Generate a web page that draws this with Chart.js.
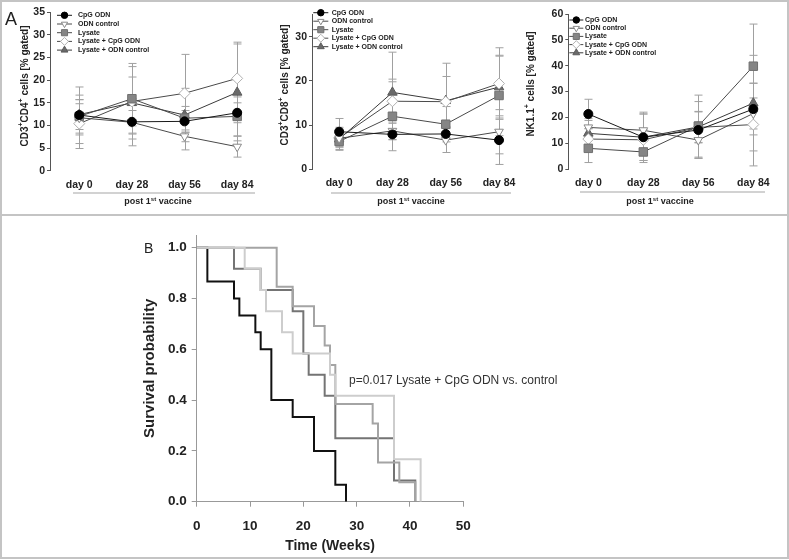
<!DOCTYPE html>
<html>
<head>
<meta charset="utf-8">
<script src="https://cdn.jsdelivr.net/npm/chart.js@4.4.1/dist/chart.umd.min.js"></script>
<style>
  html, body { margin: 0; padding: 0; background: #fff; }
  #fig { position: relative; width: 789px; height: 560px; overflow: hidden; font-family: 'Liberation Sans', Arial, sans-serif; }
  .frame { position: absolute; left: 0; top: 0; width: 789px; height: 559px; box-sizing: border-box; border: 2px solid #c4c4c4; }
  .sep { position: absolute; left: 0; top: 214px; width: 789px; height: 2px; background: #c4c4c4; }
  canvas { position: absolute; }
  .lbl { position: absolute; line-height: 1; color: #222; }
</style>
</head>
<body>
<div id="fig">
  <div class="frame"></div>
  <div class="sep"></div>
  <canvas id="cd4" width="262" height="214" style="left:0;top:0"></canvas>
  <canvas id="cd8" width="262" height="214" style="left:262px;top:0"></canvas>
  <canvas id="nk" width="262" height="214" style="left:524px;top:0"></canvas>
  <canvas id="km" width="640" height="338" style="left:140px;top:218px"></canvas>
  <div class="lbl" style="left:5px;top:10px;font-size:18px">A</div>
  <div class="lbl" style="left:144px;top:241px;font-size:14px">B</div>
</div>
<script>
const FONT = "'Liberation Sans', Arial, sans-serif";
const NARROW = "'Liberation Sans Narrow', 'Liberation Sans', Arial, sans-serif";
Chart.defaults.font.family = FONT;
Chart.defaults.color = '#222';

const days = ['day 0', 'day 28', 'day 56', 'day 84'];
const groups = ['CpG ODN', 'ODN control', 'Lysate', 'Lysate + CpG ODN', 'Lysate + ODN control'];

// rows follow `groups`, columns follow `days`
const cd4Mean = [
  [12.3, 10.8, 10.9, 12.8],
  [11.7, 10.7, 7.6, 5.3],
  [12.0, 15.9, 11.6, 12.0],
  [10.4, 15.3, 17.1, 20.4],
  [12.4, 15.0, 12.3, 17.3]
];
const cd4Sd = [
  [4.4, 2.5, 2.4, 2.2],
  [6.8, 5.2, 3.0, 2.3],
  [3.7, 7.8, 2.6, 4.3],
  [4.4, 5.4, 8.6, 8.0],
  [3.3, 8.0, 5.9, 10.7]
];
const cd8Mean = [
  [8.5, 7.9, 8.0, 6.6],
  [7.0, 8.7, 6.6, 8.5],
  [6.3, 12.0, 10.2, 16.7],
  [7.1, 15.4, 15.3, 19.4],
  [6.8, 17.4, 15.5, 18.6]
];
const cd8Sd = [
  [3.0, 1.2, 1.2, 5.5],
  [2.5, 2.0, 2.8, 5.0],
  [2.0, 7.8, 4.0, 9.1],
  [2.0, 5.0, 5.7, 8.1],
  [1.8, 9.1, 8.5, 7.0]
];
const nkMean = [
  [21.3, 12.3, 15.1, 23.2],
  [16.1, 15.0, 11.2, 21.5],
  [8.0, 6.6, 16.6, 39.8],
  [11.6, 11.3, 16.1, 17.2],
  [13.8, 12.3, 16.3, 25.5]
];
const nkSd = [
  [5.7, 9.0, 11.0, 10.0],
  [3.5, 7.0, 7.0, 6.0],
  [5.5, 4.1, 12.0, 16.3],
  [4.0, 4.0, 6.0, 16.0],
  [5.0, 9.0, 6.0, 18.5]
];

// Kaplan-Meier steps: time (weeks) and survival after the drop
const kmCtrlT  = [0, 2, 7, 8, 11, 12, 14, 18, 22, 26, 28];
const kmCtrlS  = [1, 0.867, 0.8, 0.733, 0.667, 0.6, 0.4, 0.333, 0.2, 0.067, 0];
const kmDarkT  = [0, 7, 12, 18, 20, 21, 24, 26, 37, 41];
const kmDarkS  = [1, 0.917, 0.833, 0.75, 0.583, 0.5, 0.417, 0.25, 0.083, 0];
const kmMidT   = [0, 15, 18, 22, 24, 25, 26, 33, 34, 38, 41];
const kmMidS   = [1, 0.846, 0.769, 0.692, 0.615, 0.538, 0.385, 0.308, 0.154, 0.077, 0];
const kmLightT = [0, 9, 12, 13, 16, 18, 25, 26, 37, 42];
const kmLightS = [1, 0.917, 0.833, 0.75, 0.667, 0.583, 0.5, 0.417, 0.167, 0];
const pNoteText = 'p=0.017 Lysate + CpG ODN vs. control';

const markStyle = [
  { ps: 'circle',   rot: 0,   r: 4.5, fill: '#000',    edge: '#000',    line: '#1a1a1a' },
  { ps: 'triangle', rot: 180, r: 5,   fill: '#fff',    edge: '#8a8a8a', line: '#4a4a4a' },
  { ps: 'rect',     rot: 0,   r: 6,   fill: '#858585', edge: '#707070', line: '#4a4a4a' },
  { ps: 'rectRot',  rot: 0,   r: 5.5, fill: '#fff',    edge: '#b0b0b0', line: '#4a4a4a' },
  { ps: 'triangle', rot: 0,   r: 5.5, fill: '#6a6a6a', edge: '#5a5a5a', line: '#3a3a3a' }
];

// per-panel decoration (canvas-local pixels)
const decor = {
  cd4: { title: [['CD3', 0], ['+', 1], ['CD4', 0], ['+', 1], [' cells [% gated]', 0]], tx: 25, ty: 86,
         bar: [73, 255, 193], foot: [158, 202], leg: { x0: 57, x1: 72, tx: 78, y0: 15.3, dy: 8.7 } },
  cd8: { title: [['CD3', 0], ['+', 1], ['CD8', 0], ['+', 1], [' cells [% gated]', 0]], tx: 23, ty: 85,
         bar: [69, 249, 193], foot: [149, 202], leg: { x0: 51.3, x1: 66.3, tx: 69.7, y0: 12.7, dy: 8.5 } },
  nk:  { title: [['NK1.1', 0], ['+', 1], [' cells [% gated]', 0]], tx: 7, ty: 84,
         bar: [56, 241, 192], foot: [136, 202], leg: { x0: 45.3, x1: 59.3, tx: 61, y0: 20, dy: 8.2 } }
};

function richText(ctx, parts, cx, cy, size, vertical) {
  const base = `bold ${size}px ${FONT}`, sup = `bold ${Math.round(size * 0.68)}px ${FONT}`;
  let w = 0;
  parts.forEach(p => { ctx.font = p[1] ? sup : base; w += ctx.measureText(p[0]).width; });
  ctx.save();
  ctx.translate(cx, cy);
  if (vertical) ctx.rotate(-Math.PI / 2);
  ctx.textBaseline = 'middle';
  ctx.textAlign = 'left';
  ctx.fillStyle = '#222';
  let x = -w / 2;
  parts.forEach(p => {
    ctx.font = p[1] ? sup : base;
    ctx.fillText(p[0], x, p[1] ? -size * 0.35 : 0);
    x += ctx.measureText(p[0]).width;
  });
  ctx.restore();
}

const panelDecor = {
  id: 'panelDecor',
  beforeDatasetsDraw(chart) {
    // error bars (mean +/- SD)
    const { ctx, scales: { x, y } } = chart;
    ctx.save();
    ctx.strokeStyle = '#a0a0a0';
    ctx.lineWidth = 1;
    chart.data.datasets.forEach(ds => {
      ds.data.forEach((pt, i) => {
        const px = Math.round(x.getPixelForValue(pt.x)) + 0.5;
        const top = y.getPixelForValue(pt.y + ds.sd[i]);
        const bot = y.getPixelForValue(Math.max(0, pt.y - ds.sd[i]));
        ctx.beginPath();
        ctx.moveTo(px, top); ctx.lineTo(px, bot);
        ctx.moveTo(px - 4, top); ctx.lineTo(px + 4, top);
        ctx.moveTo(px - 4, bot); ctx.lineTo(px + 4, bot);
        ctx.stroke();
      });
    });
    ctx.restore();
  },
  afterDraw(chart) {
    const d = decor[chart.canvas.id];
    const ctx = chart.ctx;
    richText(ctx, d.title, d.tx, d.ty, 10, true);
    ctx.save();
    ctx.fillStyle = '#d2d2d2';
    ctx.fillRect(d.bar[0], d.bar[2] - 1, d.bar[1] - d.bar[0], 2);
    ctx.restore();
    richText(ctx, [['post 1', 0], ['st', 1], [' vaccine', 0]], d.foot[0], d.foot[1], 9, false);

    // legend inside the plot
    const L = d.leg;
    ctx.save();
    chart.data.datasets.forEach((ds, k) => {
      const m = markStyle[k], yy = L.y0 + k * L.dy;
      ctx.lineWidth = 1;
      ctx.strokeStyle = m.line;
      ctx.beginPath(); ctx.moveTo(L.x0, yy); ctx.lineTo(L.x1, yy); ctx.stroke();
      ctx.fillStyle = m.fill;
      ctx.strokeStyle = m.edge;
      Chart.helpers.drawPoint(ctx, { pointStyle: m.ps, radius: m.r * 0.72, rotation: m.rot, borderWidth: 1 }, (L.x0 + L.x1) / 2, yy);
      ctx.fillStyle = '#222';
      ctx.font = `bold 7px ${NARROW}`;
      ctx.textBaseline = 'middle';
      ctx.textAlign = 'left';
      ctx.fillText(ds.label, L.tx, yy);
    });
    ctx.restore();
  }
};

function makePanel(id, means, sds, yMax, yStep, xMin, xMax, pad, yW, xH) {
  return new Chart(document.getElementById(id), {
    type: 'line',
    data: {
      datasets: groups.map((g, k) => ({
        label: g,
        data: means[k].map((v, i) => ({ x: i, y: v })),
        sd: sds[k],
        borderColor: markStyle[k].line,
        borderWidth: 1,
        pointStyle: markStyle[k].ps,
        pointRotation: markStyle[k].rot,
        pointRadius: markStyle[k].r,
        pointBackgroundColor: markStyle[k].fill,
        pointBorderColor: markStyle[k].edge,
        pointBorderWidth: 1,
        tension: 0
      }))
    },
    options: {
      responsive: false,
      animation: false,
      events: [],
      layout: { padding: pad },
      plugins: { legend: { display: false }, tooltip: { enabled: false } },
      scales: {
        x: {
          type: 'linear', min: xMin, max: xMax,
          afterBuildTicks: s => { s.ticks = days.map((dd, i) => ({ value: i })); },
          afterFit: s => { s.height = xH; },
          grid: { display: false, drawTicks: false },
          border: { display: false },
          ticks: { callback: v => days[v], font: { size: 10.5, weight: 'bold' }, color: '#222', padding: 8, maxRotation: 0, autoSkip: false }
        },
        y: {
          min: 0, max: yMax,
          afterFit: s => { s.width = yW; },
          grid: { drawOnChartArea: false, tickLength: 3, color: '#555' },
          border: { color: '#555' },
          ticks: { stepSize: yStep, includeBounds: false, font: { size: 10.5, weight: 'bold' }, color: '#222', padding: 2 }
        }
      }
    },
    plugins: [panelDecor]
  });
}

makePanel('cd4', cd4Mean, cd4Sd, 35, 5, -0.556, 3.222, { left: 0, right: 8, top: 12.3, bottom: 0 }, 50, 43.3);
makePanel('cd8', cd8Mean, cd8Sd, 35, 10, -0.509, 3.297, { left: 0, right: 8, top: 14.6, bottom: 0 }, 50, 44.7);
makePanel('nk', nkMean, nkSd, 60, 10, -0.364, 3.449, { left: 0, right: 8, top: 14, bottom: 0 }, 44.3, 45);

function kmSet(t, s, color) {
  return {
    data: t.map((v, i) => ({ x: v, y: s[i] })),
    borderColor: color,
    borderWidth: 2,
    stepped: true,
    pointRadius: 0,
    fill: false
  };
}

const pNote = {
  id: 'pNote',
  afterDatasetsDraw(chart) {
    const { ctx, scales: { x, y } } = chart;
    ctx.save();
    ctx.font = `12px ${FONT}`;
    ctx.fillStyle = '#333';
    ctx.textBaseline = 'middle';
    ctx.fillText(pNoteText, x.getPixelForValue(28.56), y.getPixelForValue(0.475));
    ctx.restore();
  }
};

new Chart(document.getElementById('km'), {
  type: 'line',
  data: {
    datasets: [
      kmSet(kmLightT, kmLightS, '#cdcdcd'),
      kmSet(kmMidT, kmMidS, '#a4a4a4'),
      kmSet(kmDarkT, kmDarkS, '#747474'),
      kmSet(kmCtrlT, kmCtrlS, '#111')
    ]
  },
  options: {
    responsive: false,
    animation: false,
    events: [],
    layout: { padding: { left: 0, top: 17, right: 316.7, bottom: 0 } },
    plugins: { legend: { display: false }, tooltip: { enabled: false } },
    scales: {
      x: {
        type: 'linear', min: 0, max: 50,
        afterFit: s => { s.height = 54.3; },
        grid: { drawOnChartArea: false, tickLength: 5, color: '#999' },
        border: { color: '#999' },
        ticks: { stepSize: 10, font: { size: 13.5, weight: 'bold' }, color: '#222', padding: 11 },
        title: { display: true, text: 'Time (Weeks)', font: { size: 14, weight: 'bold' }, color: '#222', padding: { top: 0, bottom: 1 } }
      },
      y: {
        min: 0, max: 1.05,
        afterFit: s => { s.width = 56.7; },
        afterBuildTicks: s => { s.ticks = [0, 0.2, 0.4, 0.6, 0.8, 1].map(v => ({ value: v })); },
        grid: { drawOnChartArea: false, tickLength: 5, color: '#999' },
        border: { color: '#999' },
        ticks: { callback: v => v.toFixed(1), font: { size: 13.5, weight: 'bold' }, color: '#222', padding: 5 },
        title: { display: true, text: 'Survival probability', font: { size: 15, weight: 'bold' }, color: '#222', padding: { top: 1, bottom: 0 } }
      }
    }
  },
  plugins: [pNote]
});
</script>
</body>
</html>
